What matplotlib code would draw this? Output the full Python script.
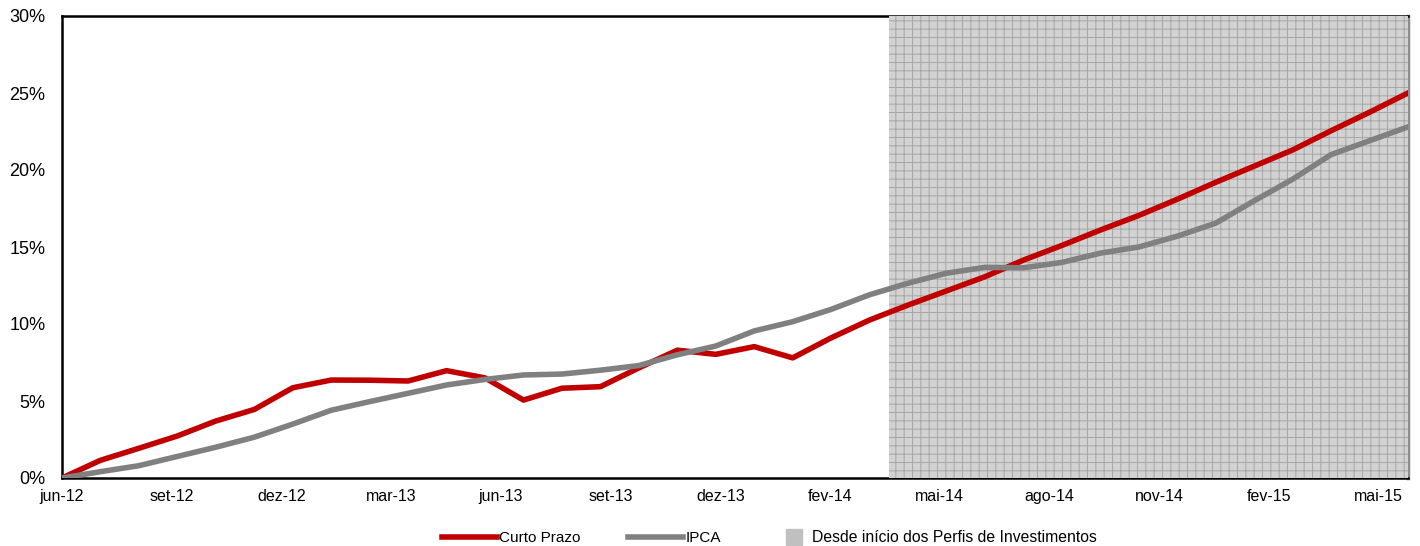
import matplotlib
matplotlib.use('Agg')
import matplotlib.pyplot as plt
from matplotlib.lines import Line2D

plt.rcParams['font.family'] = ['Liberation Sans', 'DejaVu Sans']
plt.rcParams['hatch.linewidth'] = 0.7

# dados (rentabilidade acumulada, %)
meses = ['jun-12', 'jul-12', 'ago-12', 'set-12', 'out-12', 'nov-12', 'dez-12',
         'jan-13', 'fev-13', 'mar-13', 'abr-13', 'mai-13', 'jun-13', 'jul-13',
         'ago-13', 'set-13', 'out-13', 'nov-13', 'dez-13', 'jan-14', 'fev-14',
         'mar-14', 'abr-14', 'mai-14', 'jun-14', 'jul-14', 'ago-14', 'set-14',
         'out-14', 'nov-14', 'dez-14', 'jan-15', 'fev-15', 'mar-15', 'abr-15',
         'mai-15']
curto_prazo = [0.0, 1.15, 1.93, 2.73, 3.70, 4.45, 5.86, 6.36, 6.35, 6.30, 6.97,
               6.50, 5.06, 5.83, 5.93, 7.15, 8.30, 8.03, 8.53, 7.80, 9.10, 10.26,
               11.23, 12.15, 13.07, 14.15, 15.10, 16.10, 17.05, 18.10, 19.20,
               20.25, 21.30, 22.55, 23.75, 25.00]
ipca = [0.0, 0.41, 0.80, 1.40, 2.00, 2.65, 3.50, 4.40, 4.96, 5.50, 6.04, 6.40,
        6.69, 6.75, 7.00, 7.30, 8.00, 8.57, 9.55, 10.15, 10.95, 11.90, 12.65,
        13.30, 13.68, 13.65, 14.00, 14.60, 15.00, 15.70, 16.55, 18.00, 19.40,
        21.00, 21.90, 22.80]
inicio_perfis = 'abr-14'
rotulos_x = ['jun-12', 'set-12', 'dez-12', 'mar-13', 'jun-13', 'set-13',
             'dez-13', 'fev-14', 'mai-14', 'ago-14', 'nov-14', 'fev-15', 'mai-15']
yticks = [0, 5, 10, 15, 20, 25, 30]

fig = plt.figure(figsize=(14.2, 5.46), dpi=100)
ax = fig.add_axes([62 / 1420, 1 - 478 / 546, 1346 / 1420, 462 / 546])

x = list(range(len(meses)))

# area sombreada desde inicio dos perfis
ini = meses.index(inicio_perfis) - 0.5
ax.axvspan(ini, len(meses) - 1, facecolor='#d2d2d2', edgecolor='#a6a6a6',
           hatch='++', linewidth=0, zorder=2.6)

ax.plot(x, curto_prazo, color='#C00000', lw=4, zorder=3)
ax.plot(x, ipca, color='#808080', lw=4, zorder=3.1)

ax.set_xlim(0, len(meses) - 1)
ax.set_ylim(0, 30)
ax.set_xticks([])
ax.set_yticks(yticks)
ax.set_yticklabels([f'{v}%' for v in yticks], fontsize=13)
ax.tick_params(axis='y', length=0, pad=12)

for s in ['left', 'top', 'bottom']:
    ax.spines[s].set_linewidth(1.8)
    ax.spines[s].set_color('black')
ax.spines['right'].set_linewidth(2.5)
ax.spines['right'].set_color('#8c8c8c')

# eixo de categorias para os rotulos
ax2 = ax.twiny()
ax2.set_xlim(0, 36.8)
ax2.set_xticks(range(0, 3 * len(rotulos_x), 3))
ax2.set_xticklabels(rotulos_x, fontsize=11.5)
ax2.xaxis.set_ticks_position('bottom')
ax2.xaxis.set_label_position('bottom')
ax2.tick_params(axis='x', length=0, pad=8)
for s in ax2.spines.values():
    s.set_visible(False)

# legenda
h_linhas = [Line2D([], [], color='#C00000', lw=4),
            Line2D([], [], color='#808080', lw=4)]
fig.legend(h_linhas, ['Curto Prazo', 'IPCA'], loc='center left',
           bbox_to_anchor=(442 / 1420, 1 - 538 / 546), ncol=2, frameon=False,
           fontsize=11, handlelength=3.6, handletextpad=0.15, columnspacing=3.1,
           borderpad=0, borderaxespad=0)
h_area = [Line2D([], [], color='#c0c0c0', marker='s', markersize=11.5,
                 linestyle='none')]
fig.legend(h_area, ['Desde início dos Perfis de Investimentos'], loc='center left',
           bbox_to_anchor=(785 / 1420, 1 - 538 / 546), frameon=False,
           fontsize=11.3, handlelength=1.2, handletextpad=0.55,
           borderpad=0, borderaxespad=0)

fig.savefig('out.png', dpi=100)
